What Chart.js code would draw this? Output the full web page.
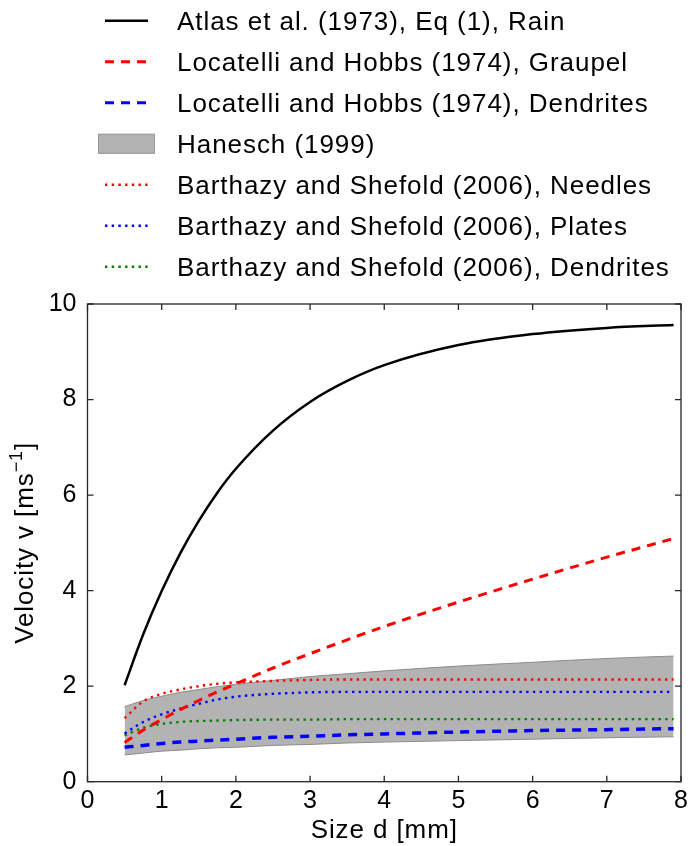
<!DOCTYPE html>
<html>
<head>
<meta charset="utf-8">
<script src="https://cdn.jsdelivr.net/npm/chart.js@4.4.1/dist/chart.umd.min.js"></script>
<style>
  html, body { margin: 0; padding: 0; background: #fff; }
  #wrap { width: 692px; height: 846px; }
</style>
</head>
<body>
<div id="wrap"><canvas id="velocityChart" width="692" height="846"></canvas></div>
<script>
// particle size (mm) shared by every curve
const sizeMm = [0.5, 0.75, 1, 1.25, 1.5, 1.75, 2, 2.5, 3, 3.5, 4, 5, 6, 7, 7.9];

const atlasRain      = [2.02, 3.08, 3.99, 4.78, 5.46, 6.05, 6.55, 7.35, 7.95, 8.39, 8.72, 9.14, 9.37, 9.50, 9.56];
const lhGraupel      = [0.82, 1.08, 1.30, 1.51, 1.70, 1.88, 2.05, 2.38, 2.68, 2.97, 3.25, 3.76, 4.24, 4.70, 5.09];
const lhDendrites    = [0.72, 0.76, 0.80, 0.83, 0.85, 0.87, 0.89, 0.93, 0.95, 0.98, 1.00, 1.04, 1.07, 1.09, 1.11];
const haneschLow     = [0.56, 0.60, 0.64, 0.66, 0.69, 0.71, 0.72, 0.76, 0.78, 0.81, 0.83, 0.86, 0.89, 0.92, 0.94];
const haneschHigh    = [1.57, 1.70, 1.79, 1.87, 1.93, 1.99, 2.04, 2.12, 2.20, 2.26, 2.32, 2.42, 2.50, 2.58, 2.63];
const bsNeedles      = [1.33, 1.68, 1.84, 1.93, 2.00, 2.05, 2.08, 2.11, 2.13, 2.14, 2.14, 2.14, 2.14, 2.14, 2.14];
const bsPlates       = [1.01, 1.25, 1.41, 1.53, 1.63, 1.72, 1.78, 1.84, 1.87, 1.88, 1.88, 1.88, 1.88, 1.88, 1.88];
const bsDendrites    = [0.97, 1.13, 1.21, 1.25, 1.27, 1.28, 1.29, 1.30, 1.30, 1.31, 1.31, 1.31, 1.31, 1.31, 1.31];

const xTicks = [0, 1, 2, 3, 4, 5, 6, 7, 8];
const yTicks = [0, 2, 4, 6, 8, 10];

const FONT = '"Liberation Sans", Arial, Helvetica, sans-serif';

function toPoints(values) {
    return sizeMm.map((d, i) => ({ x: d, y: values[i] }));
}

function curve(label, values, color, width, dash) {
    return {
        label: label,
        data: toPoints(values),
        borderColor: color,
        borderWidth: width,
        borderDash: dash,
        fill: false,
        pointRadius: 0,
        cubicInterpolationMode: 'monotone',
        order: 0
    };
}

const datasets = [
    curve('Atlas et al. (1973), Eq (1), Rain', atlasRain, '#000000', 2.5, []),
    curve('Locatelli and Hobbs (1974), Graupel', lhGraupel, '#ff0000', 3, [9, 7]),
    curve('Locatelli and Hobbs (1974), Dendrites', lhDendrites, '#0000ff', 3.5, [9, 7]),
    // lower edge of the Hanesch range (no legend entry)
    {
        label: '',
        data: toPoints(haneschLow),
        borderColor: '#8c8c8c',
        borderWidth: 1,
        pointRadius: 0,
        fill: false,
        cubicInterpolationMode: 'monotone',
        order: 10
    },
    {
        label: 'Hanesch (1999)',
        data: toPoints(haneschHigh),
        borderColor: '#8c8c8c',
        borderWidth: 1,
        backgroundColor: '#b3b3b3',
        pointRadius: 0,
        fill: '-1',
        cubicInterpolationMode: 'monotone',
        order: 10
    },
    curve('Barthazy and Shefold (2006), Needles', bsNeedles, '#ff0000', 2.4, [2.4, 4.3]),
    curve('Barthazy and Shefold (2006), Plates', bsPlates, '#0000ff', 2.4, [2.4, 4.3]),
    curve('Barthazy and Shefold (2006), Dendrites', bsDendrites, '#008000', 2.4, [2.4, 4.3])
];

// box around the axes with inward ticks on all four sides
const frameTicks = {
    id: 'frameTicks',
    afterDatasetsDraw(chart) {
        const { ctx, chartArea: a, scales: { x, y } } = chart;
        const len = 6;
        ctx.save();
        ctx.strokeStyle = '#262626';
        ctx.lineWidth = 1.3;
        ctx.strokeRect(a.left, a.top, a.right - a.left, a.bottom - a.top);
        ctx.beginPath();
        x.ticks.forEach(t => {
            const px = x.getPixelForValue(t.value);
            ctx.moveTo(px, a.bottom); ctx.lineTo(px, a.bottom - len);
            ctx.moveTo(px, a.top); ctx.lineTo(px, a.top + len);
        });
        y.ticks.forEach(t => {
            const py = y.getPixelForValue(t.value);
            ctx.moveTo(a.left, py); ctx.lineTo(a.left + len, py);
            ctx.moveTo(a.right, py); ctx.lineTo(a.right - len, py);
        });
        ctx.stroke();
        ctx.restore();
    }
};

// axis titles, drawn by hand for the superscript in the unit
const axisTitles = {
    id: 'axisTitles',
    afterDraw(chart) {
        const { ctx, chartArea: a } = chart;
        ctx.save();
        ctx.fillStyle = '#000';
        ctx.letterSpacing = '0.9px';
        ctx.textBaseline = 'alphabetic';

        ctx.font = '26px ' + FONT;
        ctx.textAlign = 'center';
        ctx.fillText('Size d [mm]', (a.left + a.right) / 2, 838);

        const main = 'Velocity v [ms';
        const sup = '\u22121';
        const close = ']';
        ctx.font = '26px ' + FONT;
        const wMain = ctx.measureText(main).width;
        const wClose = ctx.measureText(close).width;
        ctx.font = '18px ' + FONT;
        const wSup = ctx.measureText(sup).width;
        const total = wMain + wSup + wClose;

        ctx.translate(33, (a.top + a.bottom) / 2);
        ctx.rotate(-Math.PI / 2);
        ctx.textAlign = 'left';
        let cx = -total / 2;
        ctx.font = '26px ' + FONT;
        ctx.fillText(main, cx, 0);
        cx += wMain;
        ctx.font = '18px ' + FONT;
        ctx.fillText(sup, cx, -11);
        cx += wSup;
        ctx.font = '26px ' + FONT;
        ctx.fillText(close, cx, 0);
        ctx.restore();
    }
};

// legend stacked in one column above the axes
const columnLegend = {
    id: 'columnLegend',
    afterDraw(chart) {
        const ctx = chart.ctx;
        ctx.save();
        ctx.font = '26px ' + FONT;
        ctx.letterSpacing = '0.95px';
        ctx.textBaseline = 'alphabetic';
        ctx.textAlign = 'left';
        let row = 0;
        chart.data.datasets.forEach(ds => {
            if (!ds.label) return;
            const cy = 20.8 + row * 41;
            if (ds.fill) {
                ctx.fillStyle = ds.backgroundColor;
                ctx.fillRect(98, cy - 10, 57, 20);
                ctx.strokeStyle = '#999999';
                ctx.lineWidth = 1;
                ctx.strokeRect(98.5, cy - 9.5, 56, 19);
            } else {
                ctx.beginPath();
                ctx.setLineDash(ds.borderDash || []);
                ctx.strokeStyle = ds.borderColor;
                ctx.lineWidth = Math.min(ds.borderWidth, 3);
                ctx.moveTo(105, cy);
                ctx.lineTo(148, cy);
                ctx.stroke();
                ctx.setLineDash([]);
            }
            ctx.fillStyle = '#000';
            ctx.fillText(ds.label, 177, cy + 9.3);
            row++;
        });
        ctx.restore();
    }
};

Chart.defaults.font.family = FONT;
Chart.defaults.color = '#000';

const chartCtx = document.getElementById('velocityChart').getContext('2d');
const velocityChart = new Chart(chartCtx, {
    type: 'line',
    data: { datasets: datasets },
    options: {
        responsive: false,
        animation: false,
        devicePixelRatio: 1,
        layout: { padding: { top: 304, right: 11, left: 0, bottom: 0 } },
        plugins: {
            legend: { display: false },
            tooltip: { enabled: false }
        },
        scales: {
            x: {
                type: 'linear',
                min: 0,
                max: 8,
                grid: { display: false, drawTicks: false },
                border: { display: false },
                ticks: { font: { size: 25 }, padding: 4, maxRotation: 0 },
                afterBuildTicks: s => { s.ticks = xTicks.map(v => ({ value: v })); },
                afterFit: s => { s.height = 64.3; }
            },
            y: {
                type: 'linear',
                min: 0,
                max: 10,
                grid: { display: false, drawTicks: false },
                border: { display: false },
                ticks: { font: { size: 25 }, padding: 11 },
                afterBuildTicks: s => { s.ticks = yTicks.map(v => ({ value: v })); },
                afterFit: s => { s.width = 87.5; }
            }
        }
    },
    plugins: [frameTicks, axisTitles, columnLegend]
});
</script>
</body>
</html>
